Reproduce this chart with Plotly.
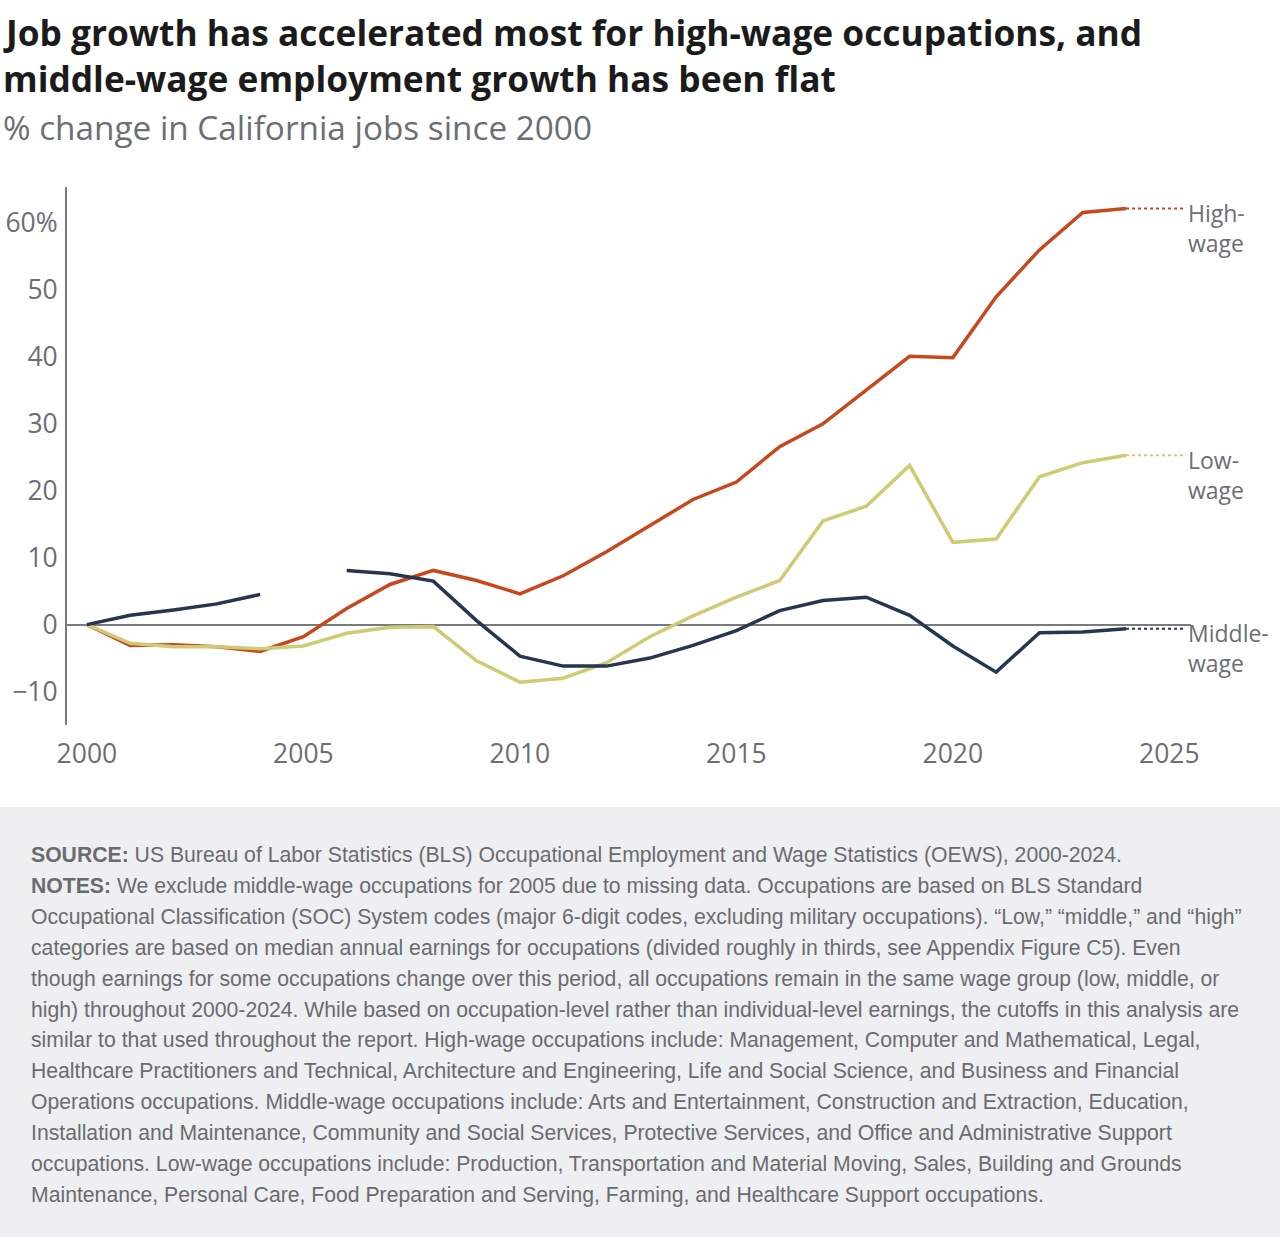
import plotly.graph_objects as go

years = list(range(2000, 2025))
high_wage = [0, -3.1, -3.0, -3.3, -4.0, -1.8, 2.4, 6.0, 8.1, 6.6, 4.6, 7.3, 10.9, 14.8, 18.7, 21.3,
             26.6, 30.0, 35.1, 40.1, 39.9, 49.0, 56.0, 61.6, 62.2]
low_wage = [0, -2.8, -3.3, -3.3, -3.6, -3.2, -1.3, -0.4, -0.3, -5.4, -8.6, -8.0, -5.7, -1.8, 1.3, 4.1,
            6.6, 15.5, 17.7, 23.8, 12.3, 12.8, 22.1, 24.2, 25.3]
middle_wage = [0, 1.4, 2.2, 3.1, 4.5, None, 8.1, 7.6, 6.5, 0.6, -4.7, -6.2, -6.2, -5.0, -3.1, -0.9,
               2.1, 3.6, 4.1, 1.4, -3.2, -7.1, -1.2, -1.1, -0.6]

series_labels = ["High-<br>wage", "Low-<br>wage", "Middle-<br>wage"]
series_colors = ["#c9481b", "#cfca74", "#263550"]

y_tickvals = [-10, 0, 10, 20, 30, 40, 50, 60]
y_ticktext = ["\u221210", "0", "10", "20", "30", "40", "50", "60%"]
x_tickvals = [2000, 2005, 2010, 2015, 2020, 2025]

LABEL_X = 2025.35

W, H = 1280, 1237
L, R, T, B = 67, 89, 187, 512
PW, PH = W - L - R, H - T - B

GRAY = "#6b6e74"
FONT = "Open Sans"


def px(xp):
    return (xp - L) / PW


def py(yp):
    return (H - B - yp) / PH


fig = go.Figure()
all_series = [high_wage, low_wage, middle_wage]
for vals, lab, col in zip(all_series, series_labels, series_colors):
    fig.add_trace(go.Scatter(x=years, y=vals, mode="lines", line=dict(color=col, width=3.5),
                             connectgaps=False, hoverinfo="skip", showlegend=False))
    fig.add_trace(go.Scatter(x=[years[-1], LABEL_X], y=[vals[-1], vals[-1]], mode="lines",
                             line=dict(color=col, width=2, dash="dot"),
                             hoverinfo="skip", showlegend=False))
    fig.add_annotation(x=LABEL_X, y=vals[-1], xref="x", yref="y", text=lab, showarrow=False,
                       xanchor="left", yanchor="middle", xshift=1, yshift=-19.5, align="left",
                       font=dict(family=FONT, size=23, color=GRAY))

# footer background
fig.add_shape(type="rect", xref="paper", yref="paper", x0=px(0), x1=px(W), y0=py(807), y1=py(H),
              fillcolor="#eeeff1", line=dict(width=0), layer="below")

# title and subtitle
fig.add_annotation(xref="paper", yref="paper", x=px(1), y=py(32), xanchor="left", yanchor="middle",
                   text="<b>Job growth has accelerated most for high-wage occupations, and</b>",
                   showarrow=False, font=dict(family=FONT, size=35.3, color="#1b1b1b"))
fig.add_annotation(xref="paper", yref="paper", x=px(1), y=py(78), xanchor="left", yanchor="middle",
                   text="<b>middle-wage employment growth has been flat</b>",
                   showarrow=False, font=dict(family=FONT, size=35.3, color="#1b1b1b"))
fig.add_annotation(xref="paper", yref="paper", x=px(1), y=py(127), xanchor="left", yanchor="middle",
                   text="% change in California jobs since 2000",
                   showarrow=False, font=dict(family=FONT, size=33.3, color=GRAY))

footer_lines = [
    "<b>SOURCE:</b> US Bureau of Labor Statistics (BLS) Occupational Employment and Wage Statistics (OEWS), 2000-2024.",
    "<b>NOTES:</b> We exclude middle-wage occupations for 2005 due to missing data. Occupations are based on BLS Standard",
    "Occupational Classification (SOC) System codes (major 6-digit codes, excluding military occupations). \u201cLow,\u201d \u201cmiddle,\u201d and \u201chigh\u201d",
    "categories are based on median annual earnings for occupations (divided roughly in thirds, see Appendix Figure C5). Even",
    "though earnings for some occupations change over this period, all occupations remain in the same wage group (low, middle, or",
    "high) throughout 2000-2024. While based on occupation-level rather than individual-level earnings, the cutoffs in this analysis are",
    "similar to that used throughout the report. High-wage occupations include: Management, Computer and Mathematical, Legal,",
    "Healthcare Practitioners and Technical, Architecture and Engineering, Life and Social Science, and Business and Financial",
    "Operations occupations. Middle-wage occupations include: Arts and Entertainment, Construction and Extraction, Education,",
    "Installation and Maintenance, Community and Social Services, Protective Services, and Office and Administrative Support",
    "occupations. Low-wage occupations include: Production, Transportation and Material Moving, Sales, Building and Grounds",
    "Maintenance, Personal Care, Food Preparation and Serving, Farming, and Healthcare Support occupations.",
]
for i, line in enumerate(footer_lines):
    fig.add_annotation(xref="paper", yref="paper", x=px(29), y=py(855 + i * 30.9), xanchor="left",
                       yanchor="middle", text=line, showarrow=False,
                       font=dict(family="Liberation Sans, Arial", size=21.2, color="#6b6b6e"))

fig.update_layout(
    width=W, height=H, margin=dict(l=L, r=R, t=T, b=B, autoexpand=False),
    paper_bgcolor="white", plot_bgcolor="white",
    xaxis=dict(range=[1999.54, 2025.5], tickvals=x_tickvals, showgrid=False, zeroline=False,
               showline=False, ticks="outside", ticklen=5, tickcolor="rgba(0,0,0,0)",
               tickfont=dict(family=FONT, size=26.5, color=GRAY)),
    yaxis=dict(range=[-15, 65.4], tickvals=y_tickvals, ticktext=y_ticktext, showgrid=False,
               zeroline=True, zerolinecolor="#7a7a7e", zerolinewidth=2,
               showline=True, linecolor="#7a7a7e", linewidth=2,
               ticks="outside", ticklen=2, tickcolor="rgba(0,0,0,0)",
               tickfont=dict(family=FONT, size=26.5, color=GRAY)),
)

fig.write_html("out.html")
